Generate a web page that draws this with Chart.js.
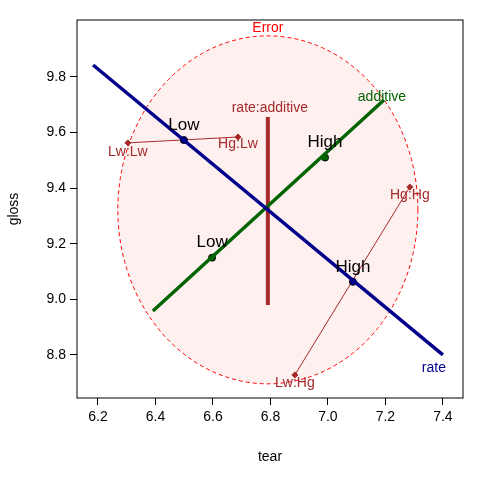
<!DOCTYPE html>
<html><head><script src="https://cdn.jsdelivr.net/npm/chart.js@4"></script>
<style>body{margin:0;background:#fff}#w{width:480px;height:480px}</style></head>
<body><div id="w"><canvas id="c"></canvas></div>
<script>
const xTicks=[6.2,6.4,6.6,6.8,7.0,7.2,7.4];
const yTicks=[8.8,9.0,9.2,9.4,9.6,9.8];
const rateLine=[{x:6.183,y:9.843},{x:7.40,y:8.80}];
const ratePts=[{x:6.499,y:9.573},{x:7.087,y:9.063}];
const rateLabels=["Low","High"];
const addLine=[{x:6.391,y:8.958},{x:7.195,y:9.717}];
const addPts=[{x:6.597,y:9.150},{x:6.99,y:9.51}];
const addLabels=["Low","High"];
const intLine=[{x:6.791,y:9.656},{x:6.791,y:8.98}];
const cellNames=["Lw:Lw","Hg:Lw","Hg:Hg","Lw:Hg"];
const cellPts=[{x:6.304,y:9.563},{x:6.687,y:9.584},{x:7.285,y:9.404},{x:6.885,y:8.728}];
const errCenter={x:6.791,y:9.322}, errRadius={x:0.522,y:0.626};
const navy="#00008B", green="#006400", brown="#A52A2A";
const ds=[
 {data:rateLine,borderColor:navy,borderWidth:3.5,showLine:true,pointRadius:0},
 {data:ratePts,backgroundColor:navy,borderColor:'#000',pointRadius:3.5,showLine:false},
 {data:addLine,borderColor:green,borderWidth:3.5,showLine:true,pointRadius:0},
 {data:addPts,backgroundColor:green,borderColor:'#000',pointRadius:3.5,showLine:false},
 {data:intLine,borderColor:brown,borderWidth:4,showLine:true,pointRadius:0},
 {data:[cellPts[0],cellPts[1]],borderColor:brown,borderWidth:1,showLine:true,pointRadius:3,pointStyle:'rectRot',backgroundColor:brown},
 {data:[cellPts[2],cellPts[3]],borderColor:brown,borderWidth:1,showLine:true,pointRadius:3,pointStyle:'rectRot',backgroundColor:brown}
];
const deco={id:'deco',
 beforeDatasetsDraw(ch){const c=ch.ctx,X=ch.scales.x,Y=ch.scales.y;
  const cx=X.getPixelForValue(errCenter.x),cy=Y.getPixelForValue(errCenter.y);
  const rx=X.getPixelForValue(errCenter.x+errRadius.x)-cx, ry=cy-Y.getPixelForValue(errCenter.y+errRadius.y);
  c.save();c.beginPath();c.ellipse(cx,cy,rx,ry,0,0,2*Math.PI);c.fillStyle='rgba(255,0,0,0.06)';c.fill();
  c.setLineDash([4,3]);c.strokeStyle='red';c.lineWidth=1;c.stroke();c.restore();},
 afterDatasetsDraw(ch){const c=ch.ctx,X=ch.scales.x,Y=ch.scales.y,a=ch.chartArea;
  const px=p=>[X.getPixelForValue(p.x),Y.getPixelForValue(p.y)];
  c.save();c.textAlign='center';c.textBaseline='middle';
  const t=(s,x,y,col,sz)=>{c.fillStyle=col;c.font=sz+'px "Liberation Sans", Arial';c.fillText(s,x,y);};
  t("Error",X.getPixelForValue(errCenter.x),Y.getPixelForValue(errCenter.y+errRadius.y)-8,'red',14);
  let p=px(rateLine[1]);t("rate",p[0]-9,p[1]+13,navy,14);
  p=px(addLine[1]);t("additive",p[0]-2,p[1]-3,green,14);
  p=px(intLine[0]);t("rate:additive",p[0]+2,p[1]-9,brown,14);
  ratePts.forEach((q,i)=>{p=px(q);t(rateLabels[i],p[0],p[1]-15,'#000',17);});
  addPts.forEach((q,i)=>{p=px(q);t(addLabels[i],p[0],p[1]-15,'#000',17);});
  const off=[[0,9],[0,7],[0,8],[0,8]];
  cellPts.forEach((q,i)=>{p=px(q);t(cellNames[i],p[0]+off[i][0],p[1]+off[i][1],brown,14);});
  c.strokeStyle='#000';c.lineWidth=1;c.strokeRect(a.left,a.top,a.right-a.left,a.bottom-a.top);
  t("tear",(a.left+a.right)/2,457,'#000',14);
  c.translate(14,(a.top+a.bottom)/2);c.rotate(-Math.PI/2);t("gloss",0,0,'#000',14);
  c.restore();}
};
new Chart(document.getElementById('c'),{type:'scatter',data:{datasets:ds},plugins:[deco],
 options:{responsive:true,maintainAspectRatio:false,animation:false,
  layout:{padding:{left:0,top:20,right:17,bottom:0}},
  plugins:{legend:{display:false},tooltip:{enabled:false}},
  scales:{
   x:{type:'linear',min:6.127,max:7.47,afterFit(s){s.height=82;},
    afterBuildTicks(s){s.ticks=xTicks.map(v=>({value:v}));},
    ticks:{color:'#000',font:{size:14,family:'"Liberation Sans", Arial'},padding:4,callback:v=>v.toFixed(1),maxRotation:0},
    grid:{drawOnChartArea:false,tickLength:7,color:'#000'},border:{display:false}},
   y:{type:'linear',min:8.645,max:10.005,afterFit(s){s.width=77;},
    afterBuildTicks(s){s.ticks=yTicks.map(v=>({value:v}));},
    ticks:{color:'#000',font:{size:14,family:'"Liberation Sans", Arial'},padding:4,callback:v=>v.toFixed(1)},
    grid:{drawOnChartArea:false,tickLength:7,color:'#000'},border:{display:false}}
  }}});
</script></body></html>
